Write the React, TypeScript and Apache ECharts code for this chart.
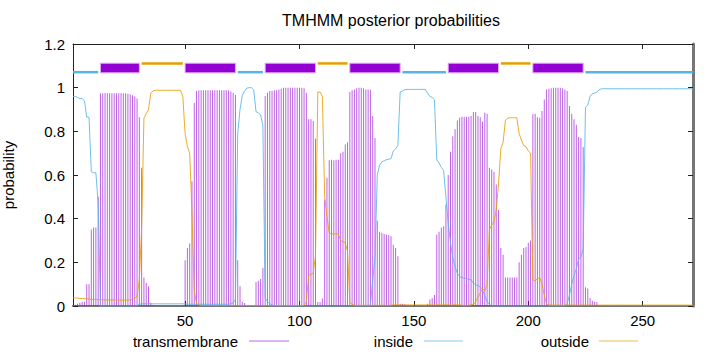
import React, { useEffect, useRef } from "react";
import * as echarts from "echarts";

// posterior probability per residue (1..272)
const tmProb = [
  0.004, 0.006, 0.01, 0.015, 0.02, 0.02, 0.1, 0.1, 0.35, 0.36,
  0.36, 0.5, 0.975, 0.975, 0.975, 0.975, 0.975, 0.975, 0.975, 0.975,
  0.975, 0.975, 0.975, 0.975, 0.972, 0.97, 0.965, 0.96, 0.95, 0.865,
  0.633, 0.13, 0.105, 0.09, 0.015, 0.003, 0, 0, 0, 0,
  0, 0, 0, 0, 0, 0, 0, 0, 0.004, 0.21,
  0.266, 0.286, 0.57, 0.93, 0.985, 0.988, 0.988, 0.988, 0.988, 0.988,
  0.988, 0.988, 0.988, 0.988, 0.988, 0.988, 0.988, 0.988, 0.988, 0.982,
  0.977, 0.966, 0.21, 0.09, 0.02, 0.014, 0, 0, 0, 0,
  0.11, 0.116, 0.124, 0.174, 0.962, 0.977, 0.985, 0.985, 0.988, 0.988,
  0.992, 0.995, 1, 1, 1, 1, 1, 1, 1, 1,
  1, 0.997, 0.977, 0.855, 0.855, 0.847, 0.766, 0.018, 0.018, 0.034,
  0.488, 0.587, 0.667, 0.67, 0.667, 0.67, 0.67, 0.7, 0.706, 0.74,
  0.75, 0.98, 0.988, 0.992, 0.997, 1, 1, 0.997, 0.992, 0.992,
  0.99, 0.87, 0.77, 0.39, 0.34, 0.335, 0.33, 0.328, 0.325, 0.32,
  0.28, 0.266, 0.228, 0.01, 0.01, 0.008, 0, 0, 0, 0,
  0, 0, 0, 0, 0, 0.01, 0.03, 0.037, 0.05, 0.327,
  0.34, 0.36, 0.365, 0.465, 0.6, 0.706, 0.778, 0.81, 0.85, 0.862,
  0.867, 0.867, 0.867, 0.867, 0.87, 0.888, 0.888, 0.87, 0.865, 0.844,
  0.885, 0.88, 0.633, 0.625, 0.615, 0.557, 0.44, 0.266, 0.235, 0.13,
  0.13, 0.13, 0.13, 0.13, 0.13, 0.2, 0.235, 0.266, 0.27, 0.29,
  0.3, 0.878, 0.88, 0.865, 0.862, 0.893, 0.946, 0.992, 0.995, 0.997,
  1, 1, 1, 1, 0.997, 0.992, 0.985, 0.916, 0.88, 0.855,
  0.83, 0.774, 0.77, 0.728, 0.086, 0.08, 0.037, 0.024, 0.02, 0.018,
  0.005, 0, 0, 0, 0, 0, 0, 0, 0, 0,
  0, 0, 0, 0, 0, 0, 0, 0, 0, 0,
  0, 0, 0, 0, 0, 0, 0, 0, 0, 0,
  0, 0, 0, 0, 0, 0, 0, 0, 0, 0,
  0, 0,
];

const insideProb = [
  0.96, 0.96, 0.955, 0.95, 0.95, 0.94, 0.865, 0.865, 0.615, 0.61,
  0.61, 0.47, 0, 0, 0, 0, 0, 0, 0, 0,
  0, 0, 0, 0, 0, 0, 0, 0, 0.002, 0.008,
  0.01, 0.01, 0.01, 0.01, 0.01, 0.01, 0.01, 0.01, 0.01, 0.01,
  0.01, 0.01, 0.01, 0.01, 0.01, 0.01, 0.01, 0.01, 0.01, 0.01,
  0.008, 0.008, 0.008, 0.008, 0.008, 0.008, 0.008, 0.008, 0.008, 0.008,
  0.008, 0.008, 0.008, 0.008, 0.008, 0.008, 0.008, 0.008, 0.008, 0.01,
  0.015, 0.03, 0.79, 0.9, 0.965, 0.985, 0.998, 1, 1, 0.99,
  0.89, 0.885, 0.876, 0.826, 0.035, 0.02, 0.01, 0.005, 0.002, 0,
  0, 0, 0, 0, 0, 0, 0, 0, 0, 0,
  0, 0, 0, 0, 0, 0, 0, 0, 0, 0,
  0, 0, 0, 0, 0, 0, 0, 0, 0, 0,
  0, 0, 0, 0, 0, 0, 0, 0, 0, 0,
  0.005, 0.12, 0.22, 0.6, 0.645, 0.66, 0.665, 0.67, 0.672, 0.675,
  0.71, 0.72, 0.735, 0.98, 0.985, 0.99, 0.992, 0.992, 0.992, 0.992,
  0.992, 0.992, 0.992, 0.992, 0.992, 0.975, 0.96, 0.955, 0.945, 0.67,
  0.655, 0.635, 0.62, 0.5, 0.38, 0.29, 0.22, 0.18, 0.15, 0.135,
  0.13, 0.128, 0.125, 0.122, 0.12, 0.105, 0.098, 0.093, 0.088, 0.076,
  0.045, 0.02, 0.008, 0, 0, 0, 0, 0, 0, 0,
  0, 0, 0, 0, 0, 0, 0, 0, 0, 0,
  0, 0, 0, 0, 0, 0, 0, 0, 0, 0,
  0, 0, 0, 0, 0, 0, 0.01, 0.05, 0.1, 0.14,
  0.17, 0.215, 0.225, 0.26, 0.91, 0.92, 0.96, 0.972, 0.975, 0.98,
  0.99, 0.995, 0.995, 0.995, 0.995, 0.995, 0.995, 0.995, 0.995, 0.995,
  0.995, 0.995, 0.995, 0.995, 0.995, 0.995, 0.995, 0.995, 0.995, 0.995,
  0.995, 0.995, 0.995, 0.995, 0.995, 0.995, 0.995, 0.995, 0.995, 0.995,
  0.995, 0.995, 0.995, 0.995, 0.995, 0.995, 0.995, 0.995, 0.995, 0.995,
  0.995, 0.995,
];

const outsideProb = [
  0.037, 0.037, 0.036, 0.035, 0.034, 0.034, 0.033, 0.033, 0.03, 0.03,
  0.03, 0.029, 0.028, 0.028, 0.028, 0.028, 0.028, 0.028, 0.028, 0.028,
  0.027, 0.027, 0.027, 0.027, 0.027, 0.028, 0.03, 0.035, 0.045, 0.12,
  0.36, 0.86, 0.88, 0.9, 0.975, 0.986, 0.988, 0.988, 0.988, 0.988,
  0.988, 0.988, 0.988, 0.988, 0.988, 0.988, 0.988, 0.988, 0.96, 0.79,
  0.73, 0.7, 0.43, 0.07, 0.012, 0.004, 0.003, 0.002, 0.002, 0.002,
  0.002, 0.002, 0.002, 0.002, 0.002, 0.002, 0.002, 0.002, 0.002, 0.002,
  0.002, 0.002, 0.002, 0.002, 0.002, 0.002, 0.002, 0.002, 0.002, 0.002,
  0.002, 0.002, 0.002, 0.002, 0.002, 0.002, 0.002, 0.002, 0.002, 0.002,
  0.002, 0.002, 0.002, 0.002, 0.002, 0.002, 0.002, 0.002, 0.002, 0.002,
  0.002, 0.003, 0.02, 0.14, 0.145, 0.15, 0.23, 0.98, 0.98, 0.96,
  0.5, 0.41, 0.335, 0.33, 0.33, 0.33, 0.33, 0.3, 0.295, 0.29,
  0.25, 0.015, 0.008, 0.004, 0.003, 0.003, 0.003, 0.003, 0.003, 0.003,
  0.003, 0.003, 0.003, 0.003, 0.003, 0.003, 0.003, 0.003, 0.003, 0.003,
  0.005, 0.005, 0.005, 0.005, 0.005, 0.005, 0.005, 0.005, 0.005, 0.005,
  0.005, 0.005, 0.005, 0.005, 0.005, 0.005, 0.005, 0.005, 0.005, 0.005,
  0.005, 0.005, 0.005, 0.005, 0.005, 0.005, 0.005, 0.005, 0.005, 0.005,
  0.003, 0.003, 0.003, 0.003, 0.005, 0.008, 0.02, 0.04, 0.06, 0.08,
  0.07, 0.1, 0.35, 0.37, 0.385, 0.44, 0.56, 0.72, 0.75, 0.85,
  0.86, 0.862, 0.862, 0.862, 0.862, 0.79, 0.76, 0.735, 0.73, 0.71,
  0.7, 0.12, 0.115, 0.125, 0.13, 0.1, 0.05, 0.008, 0.004, 0.004,
  0.004, 0.004, 0.004, 0.004, 0.004, 0.004, 0.004, 0.004, 0.004, 0.004,
  0.004, 0.004, 0.004, 0.004, 0.004, 0.004, 0.004, 0.004, 0.004, 0.004,
  0.004, 0.004, 0.004, 0.004, 0.004, 0.004, 0.004, 0.004, 0.004, 0.004,
  0.004, 0.004, 0.004, 0.004, 0.004, 0.004, 0.004, 0.004, 0.004, 0.004,
  0.004, 0.004, 0.004, 0.004, 0.004, 0.004, 0.004, 0.004, 0.004, 0.004,
  0.004, 0.004, 0.004, 0.004, 0.004, 0.004, 0.004, 0.004, 0.004, 0.004,
  0.004, 0.004,
];

// predicted topology segments (0 = inside, 1 = TM helix, 2 = outside)
const topoStart = [1, 13, 31, 50, 73, 85, 108, 122, 145, 165, 188, 202, 225];
const topoEnd = [12, 30, 49, 72, 84, 107, 121, 144, 164, 187, 201, 224, 272];
const topoKind = [0, 1, 2, 1, 0, 1, 2, 1, 0, 1, 2, 1, 0];

const xTicks = [50, 100, 150, 200, 250];
const seqLength = 272;
const titleText = "TMHMM posterior probabilities";
const yTitle = "probability";
const legendNames = ["transmembrane", "inside", "outside"];

const C_TM = "#9400d3";
const C_IN = "#56b4e9";
const C_OUT = "#e69f00";

export default function App() {
  const ref = useRef<HTMLDivElement>(null);
  useEffect(() => {
    const chart = echarts.init(ref.current!, null, { renderer: "svg" });
    const font = "'Liberation Sans', Arial, Helvetica, sans-serif";
    const idx = tmProb.map((_, i) => i + 1);
    const tickStyle = { inside: true, length: 5, lineStyle: { color: "#222", width: 1 } };
    chart.setOption({
      animation: false,
      backgroundColor: "#fff",
      textStyle: { fontFamily: font },
      grid: { left: 73, right: 27, top: 44, bottom: 46, containLabel: false, outerBoundsMode: "none" },
      xAxis: [
        {
          type: "value",
          min: 1,
          max: seqLength,
          position: "bottom",
          axisLine: { show: true, onZero: false, lineStyle: { color: "#777", width: 2 } },
          axisTick: { ...tickStyle, customValues: xTicks },
          axisLabel: { customValues: xTicks, color: "#000", fontSize: 15, fontFamily: font, margin: 7 },
          splitLine: { show: false },
        },
        {
          type: "value",
          min: 1,
          max: seqLength,
          position: "top",
          axisLine: { show: true, onZero: false, lineStyle: { color: "#222", width: 1 } },
          axisTick: { ...tickStyle, customValues: xTicks },
          axisLabel: { show: false },
          splitLine: { show: false },
        },
      ],
      yAxis: [
        {
          type: "value",
          min: 0,
          max: 1.2,
          interval: 0.2,
          position: "left",
          axisLine: { show: true, onZero: false, lineStyle: { color: "#222", width: 1 } },
          axisTick: { show: true, ...tickStyle },
          axisLabel: {
            color: "#000",
            fontSize: 15,
            fontFamily: font,
            margin: 8,
            formatter: (v: number) => String(Math.round(v * 10) / 10),
          },
          splitLine: { show: false },
          name: yTitle,
          nameLocation: "middle",
          nameGap: 57,
          nameRotate: 90,
          nameTextStyle: { color: "#000", fontSize: 15, fontFamily: font },
        },
        {
          type: "value",
          min: 0,
          max: 1.2,
          interval: 0.2,
          position: "right",
          axisLine: { show: true, onZero: false, lineStyle: { color: "#777", width: 3 } },
          axisTick: { show: true, ...tickStyle },
          axisLabel: { show: false },
          splitLine: { show: false },
        },
      ],
      series: [
        {
          name: legendNames[0],
          type: "bar",
          xAxisIndex: 0,
          yAxisIndex: 0,
          barWidth: 1,
          data: idx.map((r) => [r, tmProb[r - 1]]),
          itemStyle: { color: C_TM, opacity: 0.62 },
          silent: true,
          z: 1,
        },
        {
          name: legendNames[1],
          type: "line",
          xAxisIndex: 0,
          yAxisIndex: 0,
          data: idx.map((r) => [r, insideProb[r - 1]]),
          showSymbol: false,
          symbol: "none",
          lineStyle: { color: C_IN, width: 1, opacity: 0.85 },
          itemStyle: { color: C_IN },
          silent: true,
          z: 2,
        },
        {
          name: legendNames[2],
          type: "line",
          xAxisIndex: 0,
          yAxisIndex: 0,
          data: idx.map((r) => [r, outsideProb[r - 1]]),
          showSymbol: false,
          symbol: "none",
          lineStyle: { color: C_OUT, width: 1, opacity: 0.85 },
          itemStyle: { color: C_OUT },
          silent: true,
          z: 3,
        },
        {
          type: "custom",
          xAxisIndex: 0,
          yAxisIndex: 0,
          clip: false,
          silent: true,
          z: 4,
          encode: { x: [0, 1], y: 2 },
          data: topoStart.map((s, k) => [s, topoEnd[k], topoKind[k]]),
          renderItem: (_params: any, api: any) => {
            const s = api.value(0);
            const e = api.value(1);
            const k = api.value(2);
            if (k === 1) {
              const p1 = api.coord([s, 1.112]);
              const p2 = api.coord([e, 1.068]);
              return {
                type: "rect",
                shape: { x: p1[0], y: p1[1], width: p2[0] - p1[0], height: p2[1] - p1[1] },
                style: { fill: C_TM, stroke: "#dcaaf2", lineWidth: 1 },
              };
            }
            const yv = k === 0 ? 1.071 : 1.111;
            const a = api.coord([s, yv]);
            const b = api.coord([e, yv]);
            return {
              type: "line",
              shape: { x1: a[0], y1: a[1], x2: b[0], y2: b[1] },
              style: { stroke: k === 0 ? C_IN : C_OUT, lineWidth: 2.5 },
            };
          },
        },
      ],
      graphic: [
        {
          type: "text",
          x: 391,
          y: 20,
          style: { text: titleText, font: `16px ${font}`, fill: "#000", textAlign: "center", textVerticalAlign: "middle" },
        },
        {
          type: "text",
          x: 238,
          y: 341,
          style: { text: legendNames[0], font: `15px ${font}`, fill: "#000", textAlign: "right", textVerticalAlign: "middle" },
        },
        { type: "line", shape: { x1: 249, y1: 341, x2: 289, y2: 341 }, style: { stroke: C_TM, lineWidth: 1, opacity: 0.6 } },
        {
          type: "text",
          x: 413,
          y: 341,
          style: { text: legendNames[1], font: `15px ${font}`, fill: "#000", textAlign: "right", textVerticalAlign: "middle" },
        },
        { type: "line", shape: { x1: 424, y1: 341, x2: 463, y2: 341 }, style: { stroke: C_IN, lineWidth: 1, opacity: 0.7 } },
        {
          type: "text",
          x: 589,
          y: 341,
          style: { text: legendNames[2], font: `15px ${font}`, fill: "#000", textAlign: "right", textVerticalAlign: "middle" },
        },
        { type: "line", shape: { x1: 599, y1: 341, x2: 638, y2: 341 }, style: { stroke: C_OUT, lineWidth: 1, opacity: 0.7 } },
      ],
    });
    return () => chart.dispose();
  }, []);
  return <div ref={ref} style={{ position: "fixed", left: 0, top: 0, width: 720, height: 352 }} />;
}
